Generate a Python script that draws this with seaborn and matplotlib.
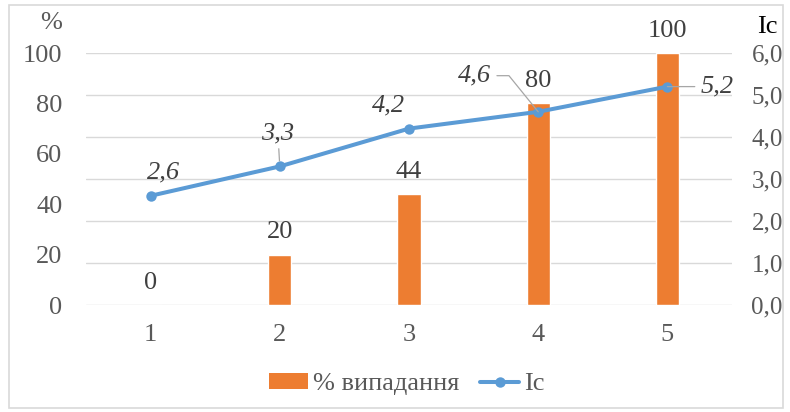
import matplotlib
matplotlib.use("Agg")
import matplotlib.pyplot as plt
import seaborn as sns
import pandas as pd
from matplotlib.patches import Rectangle, Patch
from matplotlib.lines import Line2D

# Data
groups = [1, 2, 3, 4, 5]
loss_pct = [0, 20, 44, 80, 100]
ic_values = [2.6, 3.3, 4.2, 4.6, 5.2]
left_ticks = [0, 20, 40, 60, 80, 100]
right_ticks = [0.0, 1.0, 2.0, 3.0, 4.0, 5.0, 6.0]
bar_name = "% випадання"
line_name = "Ic"

# label offsets (points) for the Ic value labels
ic_label_offsets = [(9.5, 16.5), (-1.4, 24), (-14.4, 16.5), (-46, 26), (36, 0)]

df = pd.DataFrame({"group": groups, "loss": loss_pct, "ic": ic_values})

sns.set_theme(style="white")
plt.rcParams["font.family"] = ["Liberation Serif", "DejaVu Serif"]

BAR_C = "#ED7D31"
LINE_C = "#5B9BD5"
TICK_C = "#595959"
TXT_C = "#404040"
LEADER_C = "#A6A6A6"
FS = 19

fig = plt.figure(figsize=(7.9, 4.12), dpi=100)
ax = fig.add_axes([86 / 790, 1 - 305 / 412, (732 - 86) / 790, (305 - 53) / 412])
ax2 = ax.twinx()

sns.barplot(data=df, x="group", y="loss", native_scale=True, width=0.18,
            color=BAR_C, saturation=1, ax=ax, zorder=2)
sns.lineplot(data=df, x="group", y="ic", ax=ax2, color=LINE_C, linewidth=2.9,
             marker="o", markersize=7.5, markeredgewidth=0, zorder=3)

ax.set_xlim(0.5, 5.5)
ax.set_ylim(0, 100)
ax2.set_ylim(0, 6)

ax.set_yticks(left_ticks)
ax.set_yticklabels([str(t) for t in left_ticks])
ax2.set_yticks(right_ticks)
ax2.set_yticklabels([f"{t:.1f}".replace(".", ",") for t in right_ticks])
ax.set_xticks(groups)
ax.set_xticklabels([str(g) for g in groups])

# gridlines follow the right-hand scale, drawn behind the bars
for t in right_ticks:
    ax.axhline(t / right_ticks[-1] * 100, color="#D9D9D9", lw=1.0, zorder=0)

for a in (ax, ax2):
    for s in a.spines.values():
        s.set_visible(False)
    a.set_xlabel("")
    a.set_ylabel("")
    a.grid(False)

ax.tick_params(axis="y", length=0, pad=17, labelsize=FS, labelcolor=TICK_C)
ax.tick_params(axis="x", length=0, pad=14, labelsize=FS, labelcolor=TICK_C)
ax2.tick_params(axis="y", length=0, pad=14, labelsize=18, labelcolor=TICK_C)
ax2.set_zorder(ax.get_zorder() + 1)
ax2.patch.set_visible(False)

# bar value labels
for g, v in zip(groups, loss_pct):
    ax.annotate(str(v), (g, v), xytext=(0, 8), textcoords="offset points",
                ha="center", va="bottom", fontsize=FS, color=TXT_C)

# Ic value labels (some with leader lines)
leaders = {
    1: dict(arrowstyle="-", color=LEADER_C, lw=0.9, shrinkA=1, shrinkB=4),
    3: dict(arrowstyle="-", color=LEADER_C, lw=0.9, shrinkA=2, shrinkB=0,
            connectionstyle="angle,angleA=0,angleB=129,rad=0"),
    4: dict(arrowstyle="-", color=LEADER_C, lw=0.9, shrinkA=2, shrinkB=0),
}
for i, (g, v) in enumerate(zip(groups, ic_values)):
    dx, dy = ic_label_offsets[i]
    txt = f"{v:.1f}".replace(".", ",")
    ax2.annotate(txt, (g, v), xytext=(dx, dy), textcoords="offset points",
                 ha="center", va="center", fontsize=FS, style="italic", color=TXT_C,
                 arrowprops=leaders.get(i))

# axis unit captions
fig.text(51 / 790, 1 - 23 / 412, "%", ha="center", va="center", fontsize=FS, color=TICK_C)
fig.text(767 / 790, 1 - 27 / 412, line_name, ha="center", va="center", fontsize=FS, color="black")

# legend
handles = [Patch(facecolor=BAR_C, edgecolor="none", label=bar_name),
           Line2D([0], [0], color=LINE_C, lw=2.9, marker="o", markersize=7.5,
                  markeredgewidth=0, label=line_name)]
fig.legend(handles=handles, loc="center", bbox_to_anchor=(407 / 790, 1 - 384 / 412),
           ncol=2, frameon=False, fontsize=FS, handlelength=1.45, handleheight=0.55,
           handletextpad=0.2, columnspacing=0.8, labelcolor=TICK_C)

# chart border
fig.patches.append(Rectangle((9 / 790, 4 / 412), 774 / 790, 403 / 412,
                             transform=fig.transFigure, fill=False,
                             edgecolor="#D9D9D9", lw=1.2))

fig.savefig("out.png", dpi=100)
